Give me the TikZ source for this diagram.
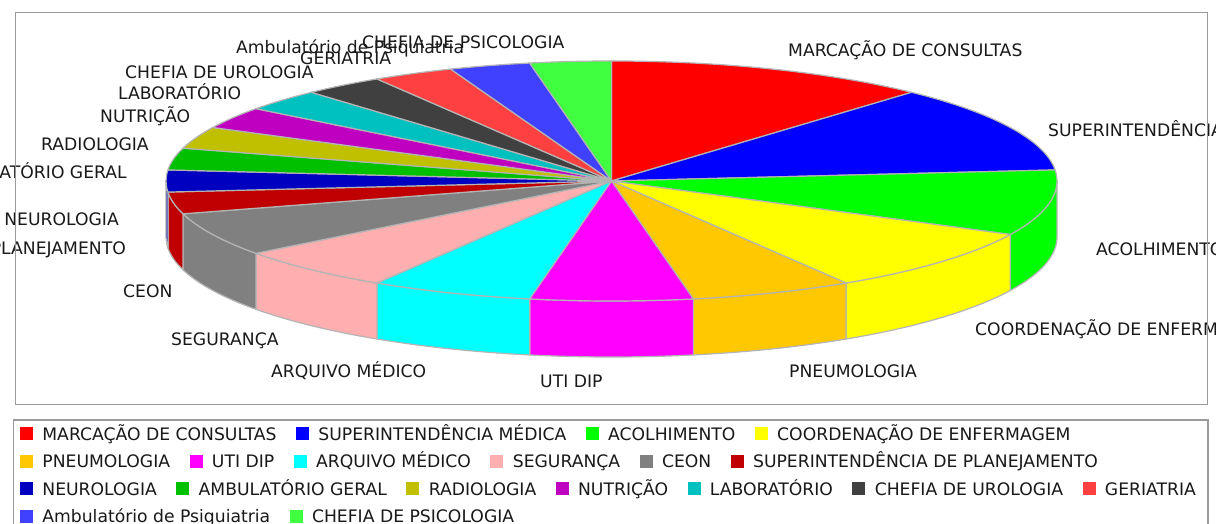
\documentclass[tikz,border=0pt]{standalone}
\usepackage{fontspec}
\newfontfamily\chartfont{DejaVu Sans}
\usetikzlibrary{positioning}
\definecolor{marcacao}{HTML}{FF0000}
\definecolor{supmedica}{HTML}{0000FF}
\definecolor{acolhimento}{HTML}{00FF00}
\definecolor{coordenacao}{HTML}{FFFF00}
\definecolor{pneumologia}{HTML}{FFC800}
\definecolor{utidip}{HTML}{FF00FF}
\definecolor{arquivo}{HTML}{00FFFF}
\definecolor{seguranca}{HTML}{FFAFAF}
\definecolor{ceon}{HTML}{808080}
\definecolor{planejamento}{HTML}{C00000}
\definecolor{neurologia}{HTML}{0000C0}
\definecolor{ambgeral}{HTML}{00C000}
\definecolor{radiologia}{HTML}{C0C000}
\definecolor{nutricao}{HTML}{C000C0}
\definecolor{laboratorio}{HTML}{00C0C0}
\definecolor{urologia}{HTML}{404040}
\definecolor{geriatria}{HTML}{FF4040}
\definecolor{psiquiatria}{HTML}{4040FF}
\definecolor{psicologia}{HTML}{40FF40}
\definecolor{sliceedge}{HTML}{B4B4B4}
\definecolor{frameline}{HTML}{9A9A9A}

% top face of one slice, and the visible rim below it
\newcommand{\pietop}[3]{%
  \filldraw[slice, fill=#3] (pc) -- ++(#1:445.5 and 120)
    arc[start angle=#1, end angle=#2, x radius=445.5, y radius=120] -- cycle;}
\newcommand{\pieside}[3]{%
  \filldraw[slice, fill=#3] (pc) ++(#1:445.5 and 120)
    arc[start angle=#1, end angle=#2, x radius=445.5, y radius=120] -- ++(0,-56)
    arc[start angle=#2, end angle=#1, x radius=445.5, y radius=120] -- cycle;}

\begin{document}
\begin{tikzpicture}[x=1pt, y=1pt]
  % Styles
  \tikzset{
    slice/.style={draw=sliceedge, line width=1.2pt, line join=round},
    frame/.style={draw=frameline, line width=1.2pt},
    lbl/.style={font=\chartfont\fontsize{17.2}{21}\selectfont, text=black!90, inner sep=0pt, text height=12.5pt, text depth=0pt},
    key/.style={minimum size=13pt, inner sep=0pt},
  }

  \clip (0,0) rectangle (1216,524);
  \fill[white] (0,0) rectangle (1216,524);
  \coordinate (pc) at (611.5,343);

  % Rim (front half only)
  \pieside{0}{-26.471}{acolhimento}
  \pieside{-26.471}{-58.235}{coordenacao}
  \pieside{-58.235}{-79.412}{pneumologia}
  \pieside{-79.412}{-100.588}{utidip}
  \pieside{-100.588}{-121.765}{arquivo}
  \pieside{-121.765}{-142.941}{seguranca}
  \pieside{-142.941}{-164.118}{ceon}
  \pieside{-164.118}{-174.706}{planejamento}
  \pieside{-174.706}{-180}{neurologia}

  % Top faces
  \pietop{90}{47.647}{marcacao}
  \pietop{47.647}{5.294}{supmedica}
  \pietop{5.294}{-26.471}{acolhimento}
  \pietop{-26.471}{-58.235}{coordenacao}
  \pietop{-58.235}{-79.412}{pneumologia}
  \pietop{-79.412}{-100.588}{utidip}
  \pietop{-100.588}{-121.765}{arquivo}
  \pietop{-121.765}{-142.941}{seguranca}
  \pietop{-142.941}{-164.118}{ceon}
  \pietop{-164.118}{-174.706}{planejamento}
  \pietop{-174.706}{-185.294}{neurologia}
  \pietop{-185.294}{-195.882}{ambgeral}
  \pietop{-195.882}{-206.471}{radiologia}
  \pietop{-206.471}{-217.059}{nutricao}
  \pietop{-217.059}{-227.647}{laboratorio}
  \pietop{-227.647}{-238.235}{urologia}
  \pietop{-238.235}{-248.824}{geriatria}
  \pietop{-248.824}{-259.412}{psiquiatria}
  \pietop{-259.412}{-270}{psicologia}

  % Slice labels
  \node[lbl, anchor=west] (l-marc) at (788,474) {MARCAÇÃO DE CONSULTAS};
  \node[lbl, anchor=west] (l-supmed) at (1048,394) {SUPERINTENDÊNCIA MÉDICA};
  \node[lbl, anchor=west] (l-acolh) at (1096,275) {ACOLHIMENTO};
  \node[lbl, anchor=west] (l-coord) at (975,195) {COORDENAÇÃO DE ENFERMAGEM};
  \node[lbl, anchor=west] (l-pneumo) at (789,153) {PNEUMOLOGIA};
  \node[lbl, anchor=west] (l-uti) at (540,143) {UTI DIP};
  \node[lbl, anchor=west] (l-arquivo) at (271,153) {ARQUIVO MÉDICO};
  \node[lbl, anchor=west] (l-seg) at (171,185) {SEGURANÇA};
  \node[lbl, anchor=west] (l-ceon) at (123,233) {CEON};
  \node[lbl, anchor=east] (l-planej) at (126,276) {SUPERINTENDÊNCIA DE PLANEJAMENTO};
  \node[lbl, anchor=east] (l-neuro) at (119,305) {NEUROLOGIA};
  \node[lbl, anchor=east] (l-ambger) at (127,352) {AMBULATÓRIO GERAL};
  \node[lbl, anchor=west] (l-radio) at (41,380) {RADIOLOGIA};
  \node[lbl, anchor=west] (l-nutri) at (100,408) {NUTRIÇÃO};
  \node[lbl, anchor=west] (l-lab) at (118,431) {LABORATÓRIO};
  \node[lbl, anchor=west] (l-uro) at (125,452) {CHEFIA DE UROLOGIA};
  \node[lbl, anchor=west] (l-geri) at (300,466) {GERIATRIA};
  \node[lbl, anchor=west] (l-psiq) at (236,477) {Ambulatório de Psiquiatria};
  \node[lbl, anchor=west] (l-psico) at (362,482) {CHEFIA DE PSICOLOGIA};

  % Frames
  \draw[frame] (15.5,119.5) rectangle (1207.5,511.5);
  \draw[frame] (13.5,-10) rectangle (1208,104);

  % Legend
  \node[key, fill=marcacao] (k-marc) at (26.5,90) {};
  \node[lbl, right=9pt of k-marc] (t-marc) {MARCAÇÃO DE CONSULTAS};
  \node[key, fill=supmedica, right=19pt of t-marc] (k-supmed) {};
  \node[lbl, right=9pt of k-supmed] (t-supmed) {SUPERINTENDÊNCIA MÉDICA};
  \node[key, fill=acolhimento, right=19pt of t-supmed] (k-acolh) {};
  \node[lbl, right=9pt of k-acolh] (t-acolh) {ACOLHIMENTO};
  \node[key, fill=coordenacao, right=19pt of t-acolh] (k-coord) {};
  \node[lbl, right=9pt of k-coord] (t-coord) {COORDENAÇÃO DE ENFERMAGEM};

  \node[key, fill=pneumologia] (k-pneumo) at (26.5,62.5) {};
  \node[lbl, right=9pt of k-pneumo] (t-pneumo) {PNEUMOLOGIA};
  \node[key, fill=utidip, right=19pt of t-pneumo] (k-uti) {};
  \node[lbl, right=9pt of k-uti] (t-uti) {UTI DIP};
  \node[key, fill=arquivo, right=19pt of t-uti] (k-arquivo) {};
  \node[lbl, right=9pt of k-arquivo] (t-arquivo) {ARQUIVO MÉDICO};
  \node[key, fill=seguranca, right=19pt of t-arquivo] (k-seg) {};
  \node[lbl, right=9pt of k-seg] (t-seg) {SEGURANÇA};
  \node[key, fill=ceon, right=19pt of t-seg] (k-ceon) {};
  \node[lbl, right=9pt of k-ceon] (t-ceon) {CEON};
  \node[key, fill=planejamento, right=19pt of t-ceon] (k-planej) {};
  \node[lbl, right=9pt of k-planej] (t-planej) {SUPERINTENDÊNCIA DE PLANEJAMENTO};

  \node[key, fill=neurologia] (k-neuro) at (26.5,35) {};
  \node[lbl, right=9pt of k-neuro] (t-neuro) {NEUROLOGIA};
  \node[key, fill=ambgeral, right=19pt of t-neuro] (k-ambger) {};
  \node[lbl, right=9pt of k-ambger] (t-ambger) {AMBULATÓRIO GERAL};
  \node[key, fill=radiologia, right=19pt of t-ambger] (k-radio) {};
  \node[lbl, right=9pt of k-radio] (t-radio) {RADIOLOGIA};
  \node[key, fill=nutricao, right=19pt of t-radio] (k-nutri) {};
  \node[lbl, right=9pt of k-nutri] (t-nutri) {NUTRIÇÃO};
  \node[key, fill=laboratorio, right=19pt of t-nutri] (k-lab) {};
  \node[lbl, right=9pt of k-lab] (t-lab) {LABORATÓRIO};
  \node[key, fill=urologia, right=19pt of t-lab] (k-uro) {};
  \node[lbl, right=9pt of k-uro] (t-uro) {CHEFIA DE UROLOGIA};
  \node[key, fill=geriatria, right=19pt of t-uro] (k-geri) {};
  \node[lbl, right=9pt of k-geri] (t-geri) {GERIATRIA};

  \node[key, fill=psiquiatria] (k-psiq) at (26.5,7.5) {};
  \node[lbl, right=9pt of k-psiq] (t-psiq) {Ambulatório de Psiquiatria};
  \node[key, fill=psicologia, right=19pt of t-psiq] (k-psico) {};
  \node[lbl, right=9pt of k-psico] (t-psico) {CHEFIA DE PSICOLOGIA};
\end{tikzpicture}
\end{document}
